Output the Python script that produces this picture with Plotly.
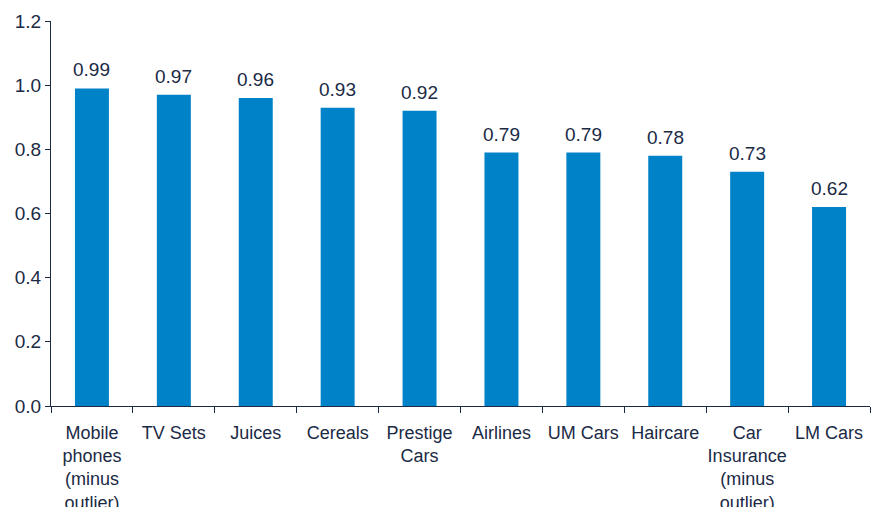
import plotly.graph_objects as go

categories = [
    "Mobile<br>phones<br>(minus<br>outlier)",
    "TV Sets",
    "Juices",
    "Cereals",
    "Prestige<br>Cars",
    "Airlines",
    "UM Cars",
    "Haircare",
    "Car<br>Insurance<br>(minus<br>outlier)",
    "LM Cars",
]
values = [0.99, 0.97, 0.96, 0.93, 0.92, 0.79, 0.79, 0.78, 0.73, 0.62]
y_ticks = [0.0, 0.2, 0.4, 0.6, 0.8, 1.0, 1.2]

BAR = "#0082C8"
INK = "#1B2A45"
FONT = "Liberation Sans, Arial, sans-serif"

fig = go.Figure(
    go.Bar(
        x=categories,
        y=values,
        marker=dict(color=BAR, line=dict(width=0)),
        cliponaxis=False,
    )
)

# value labels above each bar
for c, v in zip(categories, values):
    fig.add_annotation(
        x=c, y=v, text=f"{v:.2f}", showarrow=False,
        yanchor="bottom", yshift=6,
        font=dict(color=INK, size=19, family=FONT),
    )

fig.update_layout(
    width=877,
    height=507,
    margin=dict(l=51, r=7, t=21, b=101),
    paper_bgcolor="white",
    plot_bgcolor="white",
    bargap=0.585,
    showlegend=False,
    font=dict(family=FONT, color=INK, size=18),
)

fig.update_xaxes(
    automargin=False,
    showline=True,
    linecolor=INK,
    linewidth=1,
    ticks="outside",
    tickson="boundaries",
    ticklen=6,
    tickcolor=INK,
    showgrid=False,
    tickfont=dict(size=18, color=INK, family=FONT),
    tickangle=0,
    ticklabelstandoff=10,
)
fig.update_yaxes(
    automargin=False,
    range=[0, 1.2],
    tickvals=y_ticks,
    ticktext=[f"{t:.1f}" for t in y_ticks],
    showline=True,
    linecolor=INK,
    linewidth=1,
    ticks="outside",
    ticklen=5,
    tickcolor=INK,
    showgrid=False,
    zeroline=False,
    tickfont=dict(size=19, color=INK, family=FONT),
)

fig.write_html("out.html")
